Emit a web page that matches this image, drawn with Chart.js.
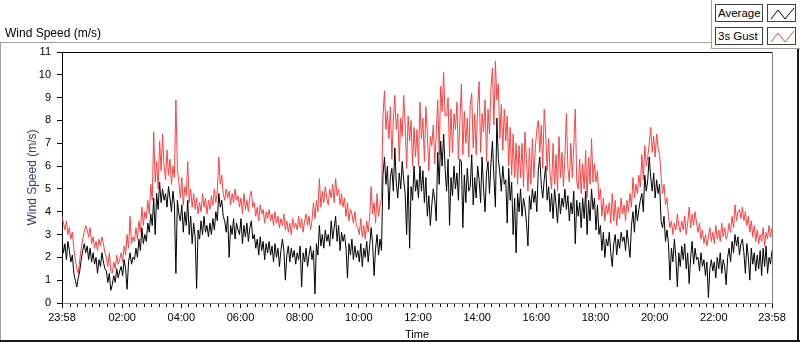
<!DOCTYPE html>
<html>
<head>
<meta charset="utf-8">
<script src="https://cdn.jsdelivr.net/npm/chart.js@4/dist/chart.umd.min.js"></script>
<style>
html,body{margin:0;padding:0;background:#fff;}
#wrap{position:relative;width:800px;height:342px;overflow:hidden;font-family:"Liberation Sans",Arial,sans-serif;background:#fff;}
#chart{position:absolute;left:0;top:0;}
.ln{position:absolute;}
#title{position:absolute;left:5px;top:26px;font-size:12px;line-height:14px;color:#000;white-space:nowrap;}
.lgbox{position:absolute;box-sizing:border-box;border:1px solid #404040;background:#fff;font-size:11.5px;line-height:16px;color:#000;padding-left:2px;white-space:nowrap;}
.lgsample{position:absolute;box-sizing:border-box;border:1px solid #404040;background:#fff;}
.lgsample svg{position:absolute;left:0;top:0;}
</style>
</head>
<body>
<div id="wrap">
  <canvas id="chart" width="800" height="342"></canvas>
  <div id="title">Wind Speed (m/s)</div>
  <div class="ln" style="left:0;top:42px;width:711px;height:1px;background:#a0a0a0;"></div>
  <div class="ln" style="left:0;top:42px;width:1px;height:300px;background:#a0a0a0;"></div>
  <div class="ln" style="left:0;top:340px;width:800px;height:2px;background:#1a1a1a;"></div>
  <div class="ln" style="left:797px;top:48px;width:2px;height:294px;background:#1a1a1a;"></div>
  <div class="ln" style="left:711px;top:0;width:1px;height:48px;background:#a0a0a0;"></div>
  <div class="ln" style="left:711px;top:48px;width:89px;height:1px;background:#a0a0a0;"></div>
  <div class="lgbox" style="left:715px;top:4px;width:48px;height:18px;">Average</div>
  <div class="lgsample" style="left:767px;top:4px;width:29px;height:18px;"><svg width="29" height="18"><polyline points="3,14 10,5 17,14 26,3" fill="none" stroke="#000" stroke-width="1"/></svg></div>
  <div class="lgbox" style="left:715px;top:27px;width:48px;height:18px;">3s Gust</div>
  <div class="lgsample" style="left:767px;top:27px;width:29px;height:18px;"><svg width="29" height="18"><polyline points="3,14 10,5 17,14 26,3" fill="none" stroke="#ff4040" stroke-width="1"/></svg></div>
</div>
<script>
// ---- data (one value every 3 minutes, starting 23:58 of the previous day) ----
const startMinute = -2;
const stepMinutes = 3;
const gust = [
3.8,3.5,3.2,3.6,3.0,3.3,2.8,3.1,2.4,1.9,
1.5,1.3,1.9,2.4,2.8,3.1,3.4,3.2,2.9,3.3,
2.6,2.9,2.4,2.7,2.3,2.8,2.5,2.9,2.6,2.2,
2.0,1.6,2.2,1.4,1.3,1.8,1.5,2.1,1.7,1.9,
2.2,1.8,2.5,2.1,3.0,2.4,3.8,2.6,2.9,2.7,
3.3,2.8,3.6,3.1,4.2,3.4,4.0,3.7,4.5,3.9,
5.2,4.5,7.5,5.3,6.2,5.0,7.1,5.8,7.4,6.0,
5.4,6.7,5.6,6.3,5.2,6.0,5.5,8.9,5.9,5.3,
4.6,5.5,4.3,5.1,4.7,6.2,4.4,5.0,4.2,4.8,
4.1,4.6,3.9,4.4,4.0,4.8,4.2,4.6,3.9,4.5,
4.1,4.7,4.3,5.0,4.4,4.9,6.4,5.2,5.6,4.8,
4.5,5.0,4.6,4.9,4.3,4.8,4.4,5.0,4.5,4.7,
4.2,4.6,3.9,4.8,4.1,4.5,4.0,4.7,4.9,4.2,
4.4,3.8,4.2,3.6,4.3,3.9,4.1,3.5,4.0,3.7,
4.1,3.6,3.9,3.4,4.0,3.5,3.8,3.3,3.7,3.4,
3.9,3.2,3.6,3.1,3.5,3.0,3.7,3.3,3.5,3.2,
3.8,3.3,3.7,3.1,3.6,3.9,3.4,3.8,3.2,3.6,
4.4,3.7,4.5,4.0,5.45,4.2,4.9,4.4,5.1,4.6,
4.3,5.0,4.6,5.2,4.4,5.45,4.7,5.0,4.3,4.8,
4.2,4.6,3.8,4.4,3.6,4.1,3.9,3.5,4.0,3.4,
3.3,3.0,3.7,2.9,3.4,2.8,3.6,3.1,3.8,5.1,
3.9,4.4,3.5,4.8,3.8,4.3,4.6,8.2,9.3,7.6,
8.4,7.2,8.6,6.3,8.0,9.1,7.6,8.3,6.2,8.1,
7.3,9.1,7.8,5.9,8.2,7.1,8.0,6.0,7.7,6.4,
7.6,6.0,8.8,7.2,8.1,6.2,8.6,7.4,5.8,7.3,
6.9,7.8,6.1,7.4,8.9,6.5,9.5,8.4,10.1,8.2,
8.2,9.0,6.4,8.5,6.6,8.3,7.6,8.8,6.3,8.0,
9.6,6.5,8.4,7.0,8.1,6.4,8.7,9.2,6.8,8.3,
6.5,8.6,9.7,6.6,8.3,7.5,8.9,6.2,8.5,7.4,
9.4,10.3,7.8,10.6,8.9,9.6,7.2,8.7,6.7,8.5,
7.1,8.2,6.0,7.7,5.6,7.4,5.5,7.0,5.2,6.9,
5.5,7.0,5.1,7.5,6.3,4.9,6.8,5.2,7.2,5.5,
6.8,7.6,8.0,6.6,7.8,5.9,8.5,7.4,5.8,7.2,
5.6,5.0,7.0,5.2,6.5,4.9,7.3,5.5,6.6,5.1,
6.4,8.3,5.9,5.3,7.0,5.5,6.9,8.5,5.3,5.0,
6.3,4.8,6.1,5.0,6.7,4.6,6.4,5.2,7.2,5.3,
6.1,5.3,5.8,4.5,5.0,3.8,4.6,3.6,4.3,3.9,
4.4,3.5,4.8,3.6,4.5,3.4,4.2,3.7,4.6,3.9,
4.3,3.6,4.5,4.0,4.8,4.2,5.5,4.6,5.2,4.8,
5.6,5.1,6.5,5.4,6.9,6.0,6.4,7.0,7.7,6.6,
7.3,6.4,7.4,6.8,6.5,5.6,4.8,5.2,4.3,4.6,
3.8,3.3,3.6,3.0,3.5,3.2,3.9,3.4,3.1,3.6,
3.2,3.8,3.0,3.5,4.2,3.3,3.9,3.4,4.0,3.5,
3.1,3.5,2.8,3.2,2.6,3.0,2.5,2.9,3.3,2.7,
3.1,2.6,3.4,2.8,3.2,2.7,3.5,2.9,3.3,2.8,
3.0,3.5,3.1,3.8,3.3,4.3,3.6,4.0,4.1,3.7,
4.2,3.6,4.0,3.4,3.8,3.1,3.6,2.9,3.4,2.7,
3.2,2.6,3.0,2.7,3.3,2.5,3.1,2.8,3.4,2.9,
3.3
];
const average = [
2.8,2.2,2.6,1.9,2.7,2.3,1.8,2.1,1.3,1.0,
0.7,1.1,1.4,1.9,2.3,2.6,2.2,2.5,1.9,2.4,
1.8,2.2,1.7,2.0,1.3,1.9,1.6,2.2,1.8,1.5,
1.4,0.9,1.3,0.55,0.8,1.2,0.9,1.5,1.1,1.4,
1.6,1.2,1.9,1.5,0.6,1.8,2.2,1.7,2.0,1.9,
2.4,2.0,2.8,2.3,3.3,2.6,3.0,2.7,3.5,3.1,
3.9,3.4,4.6,3.0,4.8,4.1,5.3,4.4,5.0,4.5,
4.8,4.2,5.1,4.6,4.0,4.9,4.3,1.3,4.5,3.9,
3.6,4.3,3.1,4.0,3.4,4.5,3.0,3.8,2.6,3.5,
2.9,0.64,3.2,2.8,3.6,3.0,3.8,3.1,3.4,2.9,
3.5,3.0,3.7,3.2,4.0,3.6,4.8,4.2,4.5,3.8,
3.6,3.1,3.8,2.0,3.4,3.0,3.7,2.8,3.5,3.2,
3.0,3.7,2.6,3.4,2.9,3.5,2.7,3.3,3.6,2.8,
3.0,2.4,2.8,2.1,2.9,2.3,2.7,1.9,2.6,2.2,
2.7,2.1,2.5,1.8,2.6,2.0,2.4,1.6,2.3,2.8,
2.3,1.0,2.1,2.5,1.8,2.4,2.0,2.3,1.7,2.2,
1.9,2.5,0.7,2.2,1.8,2.4,1.6,2.1,2.5,1.9,
2.3,0.4,2.6,2.1,3.4,2.5,3.0,2.4,3.2,2.7,
3.0,2.5,3.6,2.8,3.3,3.8,2.7,3.4,2.3,3.1,
2.7,3.0,2.4,1.1,2.6,2.1,2.8,1.9,2.5,2.0,
2.3,1.8,2.6,1.6,2.4,2.0,2.7,1.8,2.5,3.3,
2.6,1.2,2.4,3.0,2.1,2.8,2.3,5.6,6.4,5.2,
6.0,4.1,5.5,5.9,4.9,6.8,5.3,4.6,5.7,5.0,
6.2,5.4,4.8,3.0,5.6,2.4,5.1,4.5,6.0,4.9,
5.4,4.6,6.0,4.9,5.8,4.4,5.5,3.8,4.7,3.4,
4.3,5.0,4.5,3.6,6.6,5.2,7.1,6.0,7.4,5.9,
4.9,6.3,3.4,5.5,4.7,6.0,5.0,5.7,4.5,6.3,
6.2,3.3,5.6,4.4,5.9,4.9,5.1,6.5,4.3,5.5,
4.6,6.0,5.4,4.4,6.4,5.0,4.0,5.7,6.2,4.8,
6.1,7.1,5.5,4.2,8.1,6.3,5.7,4.9,6.0,5.2,
5.4,3.5,5.9,4.5,5.3,3.0,4.6,2.2,4.8,4.0,
5.0,3.8,4.6,4.2,3.5,2.5,4.7,4.1,5.0,4.4,
4.9,4.0,5.8,6.4,5.2,4.6,5.4,6.0,4.5,5.1,
4.0,4.8,3.7,5.0,4.3,3.5,4.8,3.9,4.6,4.2,
5.0,4.1,4.7,3.6,4.4,3.9,4.9,2.6,4.5,3.8,
4.4,3.3,4.6,3.7,4.9,3.0,4.5,3.6,5.0,4.1,
4.6,3.2,4.3,3.0,3.4,2.3,3.1,2.0,2.8,2.5,
3.1,2.2,1.6,2.6,3.0,2.1,2.8,2.4,3.1,2.7,
2.9,2.3,3.2,2.6,2.0,3.4,4.0,3.1,4.3,3.6,
4.1,4.5,4.8,4.0,5.6,4.9,5.4,6.4,5.5,4.9,
5.7,4.6,5.4,4.8,5.2,3.6,3.3,3.8,2.7,3.2,
2.6,1.0,2.4,1.8,2.8,2.0,0.7,2.2,1.6,2.5,
1.9,2.6,1.5,2.2,0.85,2.0,2.7,1.7,2.4,1.9,
2.0,1.4,2.2,1.6,1.9,1.2,1.8,0.24,1.5,1.9,
1.4,1.8,1.1,2.0,1.5,2.2,1.3,1.9,1.6,0.8,
2.0,2.4,1.8,2.7,2.2,3.0,2.5,2.9,2.1,2.6,
2.8,2.2,1.3,2.6,2.0,1.0,2.4,1.7,2.2,1.4,
2.1,1.5,2.3,1.2,2.4,1.6,2.5,1.3,2.0,1.7,
2.3
];
const majorTicks = [-2,120,240,360,480,600,720,840,960,1080,1200,1320,1438];
const tickLabels = ['23:58','02:00','04:00','06:00','08:00','10:00','12:00','14:00','16:00','18:00','20:00','22:00','23:58'];
const minorStepMinutes = 15;

const toPoints = arr => arr.map((v,i)=>({x:startMinute+i*stepMinutes, y:v}));

const framePlugin = {
  id:'frame',
  afterDraw(chart){
    const {ctx, chartArea:a} = chart;
    ctx.save();
    ctx.lineWidth = 1;
    ctx.strokeStyle = '#000';
    ctx.beginPath(); ctx.moveTo(a.left, a.top+0.5); ctx.lineTo(a.right, a.top+0.5); ctx.stroke();
    ctx.strokeStyle = '#808080';
    ctx.beginPath(); ctx.moveTo(a.right+0.5, a.top); ctx.lineTo(a.right+0.5, a.bottom+1); ctx.stroke();
    ctx.restore();
  }
};

new Chart(document.getElementById('chart'), {
  type:'line',
  data:{
    datasets:[
      {label:'Average', data:toPoints(average), borderColor:'#000000', borderWidth:1, pointRadius:0, tension:0, order:0},
      {label:'3s Gust', data:toPoints(gust), borderColor:'#ff4040', borderWidth:1, pointRadius:0, tension:0, order:1}
    ]
  },
  options:{
    responsive:false, animation:false, devicePixelRatio:1,
    layout:{padding:{left:0,right:28,top:52,bottom:0}},
    plugins:{legend:{display:false}, tooltip:{enabled:false}},
    scales:{
      x:{
        type:'linear', min:-2, max:1438,
        afterBuildTicks:s=>{
          const t = majorTicks.map(v=>({value:v}));
          for(let m=0;m<=1425;m+=minorStepMinutes){ if(!majorTicks.includes(m)) t.push({value:m}); }
          t.sort((a,b)=>a.value-b.value);
          s.ticks = t;
        },
        afterFit:s=>{ s.height = 39; },
        ticks:{autoSkip:false, maxRotation:0, minRotation:0, padding:3, color:'#000',
          font:{family:'"Liberation Sans", Arial, sans-serif', size:11},
          callback:(v)=>{ const k = majorTicks.indexOf(v); return k>=0 ? tickLabels[k] : ''; }},
        grid:{drawOnChartArea:false, drawTicks:true, tickLength:5, tickColor:'#000',
          tickBorderDash:(c)=> (c.tick && majorTicks.includes(c.tick.value)) ? [] : [3,50]},
        border:{display:true, color:'#888888', width:1},
        title:{display:true, text:'Time', color:'#000', padding:{top:0,bottom:0},
          font:{family:'"Liberation Sans", Arial, sans-serif', size:11}}
      },
      y:{
        min:0, max:11,
        afterFit:s=>{ s.width = 62; },
        ticks:{stepSize:1, padding:6, color:'#000',
          font:{family:'"Liberation Sans", Arial, sans-serif', size:11}},
        grid:{drawOnChartArea:false, drawTicks:true, tickLength:5, tickColor:'#000'},
        border:{display:true, color:'#000', width:1},
        title:{display:true, text:'Wind Speed (m/s)', color:'#2a3f7a', padding:{top:25,bottom:0},
          font:{family:'"Liberation Sans", Arial, sans-serif', size:12}}
      }
    }
  },
  plugins:[framePlugin]
});
</script>
</body>
</html>
